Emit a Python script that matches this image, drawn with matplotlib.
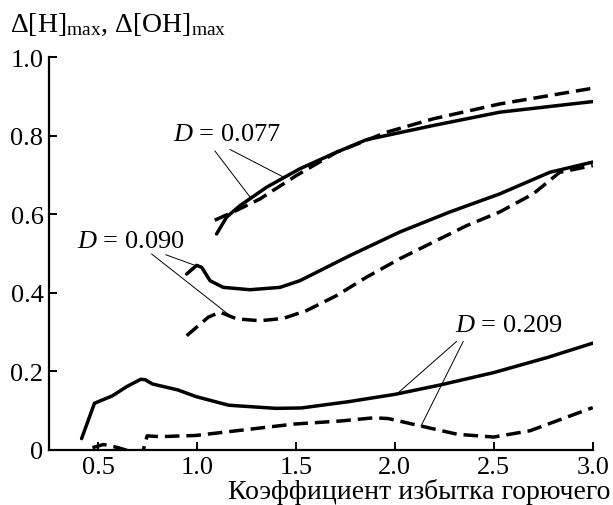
import matplotlib
matplotlib.use("Agg")
import matplotlib.pyplot as plt

plt.rcParams['font.family'] = ['Liberation Serif', 'DejaVu Serif']
plt.rcParams['mathtext.fontset'] = 'custom'
plt.rcParams['mathtext.rm'] = 'Liberation Serif'
plt.rcParams['mathtext.it'] = 'Liberation Serif:italic'

# D = 0.077
x077_s = [1.099, 1.150, 1.217, 1.352, 1.520, 1.705, 1.857, 2.193, 2.530, 3.0]
y077_s = [0.550, 0.593, 0.622, 0.669, 0.716, 0.758, 0.790, 0.826, 0.860, 0.887]
x077_d = [1.090, 1.200, 1.318, 1.503, 1.705, 1.958, 2.193, 2.530, 3.0]
y077_d = [0.585, 0.610, 0.639, 0.699, 0.758, 0.809, 0.843, 0.881, 0.921]

# D = 0.090
x090_s = [0.948, 0.998, 1.024, 1.066, 1.133, 1.268, 1.419, 1.520, 1.773, 2.025, 2.278, 2.530, 2.783, 3.0]
y090_s = [0.448, 0.470, 0.465, 0.431, 0.414, 0.408, 0.414, 0.431, 0.495, 0.555, 0.606, 0.652, 0.707, 0.733]
x090_d = [0.948, 1.057, 1.116, 1.200, 1.318, 1.436, 1.554, 1.705, 1.857, 2.025, 2.193, 2.362, 2.530,
          2.699, 2.833, 3.0]
y090_d = [0.291, 0.338, 0.351, 0.334, 0.329, 0.335, 0.355, 0.393, 0.440, 0.487, 0.529, 0.571, 0.606,
          0.652, 0.707, 0.724]

# D = 0.209
x209_s = [0.417, 0.482, 0.573, 0.647, 0.716, 0.738, 0.775, 0.903, 0.995, 1.160, 1.399, 1.527, 1.766,
          2.004, 2.224, 2.499, 2.774, 3.0]
y209_s = [0.029, 0.119, 0.138, 0.162, 0.180, 0.179, 0.168, 0.153, 0.136, 0.114, 0.106, 0.107, 0.123,
          0.142, 0.165, 0.197, 0.236, 0.272]
x209_d = [0.472, 0.528, 0.601, 0.640, 0.690, 0.729, 0.748, 0.812, 0.995, 1.234, 1.490, 1.729, 1.894,
          1.967, 2.132, 2.316, 2.499, 2.683, 3.0]
y209_d = [0.006, 0.014, 0.006, 0.0, -0.01, 0.0, 0.036, 0.034, 0.037, 0.051, 0.066, 0.074, 0.082,
          0.080, 0.061, 0.040, 0.033, 0.049, 0.108]

xticks = [0.5, 1.0, 1.5, 2.0, 2.5, 3.0]
xtick_labels = ['0.5', '1.0', '1.5', '2.0', '2.5', '3.0']
yticks = [0, 0.2, 0.4, 0.6, 0.8, 1.0]
ytick_labels = ['0', '0.2', '0.4', '0.6', '0.8', '1.0']

fs = 19

fig = plt.figure(figsize=(6.13, 5.06), dpi=100)
ax = fig.add_axes([0.080, 0.1087, 0.887, 0.7763])

lw = 2.5
dash = (0, (4.2, 2.0))
for xs, ys in [(x077_s, y077_s), (x090_s, y090_s), (x209_s, y209_s)]:
    ax.plot(xs, ys, color='black', lw=lw, solid_capstyle='round')
for xs, ys in [(x077_d, y077_d), (x090_d, y090_d), (x209_d, y209_d)]:
    ax.plot(xs, ys, color='black', lw=lw, linestyle=dash, dash_capstyle='butt')

ax.set_xlim(0.2525, 3.0)
ax.set_ylim(0, 1.0)

ax.spines['top'].set_visible(False)
ax.spines['right'].set_visible(False)
for s in ['left', 'bottom']:
    ax.spines[s].set_linewidth(1.6)

ax.set_xticks(xticks)
ax.set_xticklabels(xtick_labels)
ax.set_yticks(yticks)
ax.set_yticklabels(ytick_labels)
ax.tick_params(direction='in', length=6, width=1.4, labelsize=fs, pad=4)

# labels with leader lines
tkw = dict(fontsize=fs, va='center', ha='left')
ax.text(0.879, 0.805, r'$D$ = 0.077', **tkw)
ax.plot([1.091, 1.268], [0.761, 0.644], color='black', lw=0.7)
ax.plot([1.167, 1.436], [0.765, 0.695], color='black', lw=0.7)

ax.text(0.392, 0.533, r'$D$ = 0.090', **tkw)
ax.plot([0.843, 0.990], [0.497, 0.470], color='black', lw=0.7)
ax.plot([0.771, 1.167], [0.499, 0.342], color='black', lw=0.7)

ax.text(2.303, 0.319, r'$D$ = 0.209', **tkw)
ax.plot([2.311, 2.013], [0.276, 0.144], color='black', lw=0.7)
ax.plot([2.345, 2.132], [0.276, 0.061], color='black', lw=0.7)

fig.text(0.016, 0.937, r'$\Delta$[H]$_{\rm max}$, $\Delta$[OH]$_{\rm max}$', fontsize=20,
         ha='left', va='baseline')
fig.text(0.995, 0.028, 'Коэффициент избытка горючего', fontsize=20, ha='right', va='center')

fig.savefig('out.png', dpi=100)
